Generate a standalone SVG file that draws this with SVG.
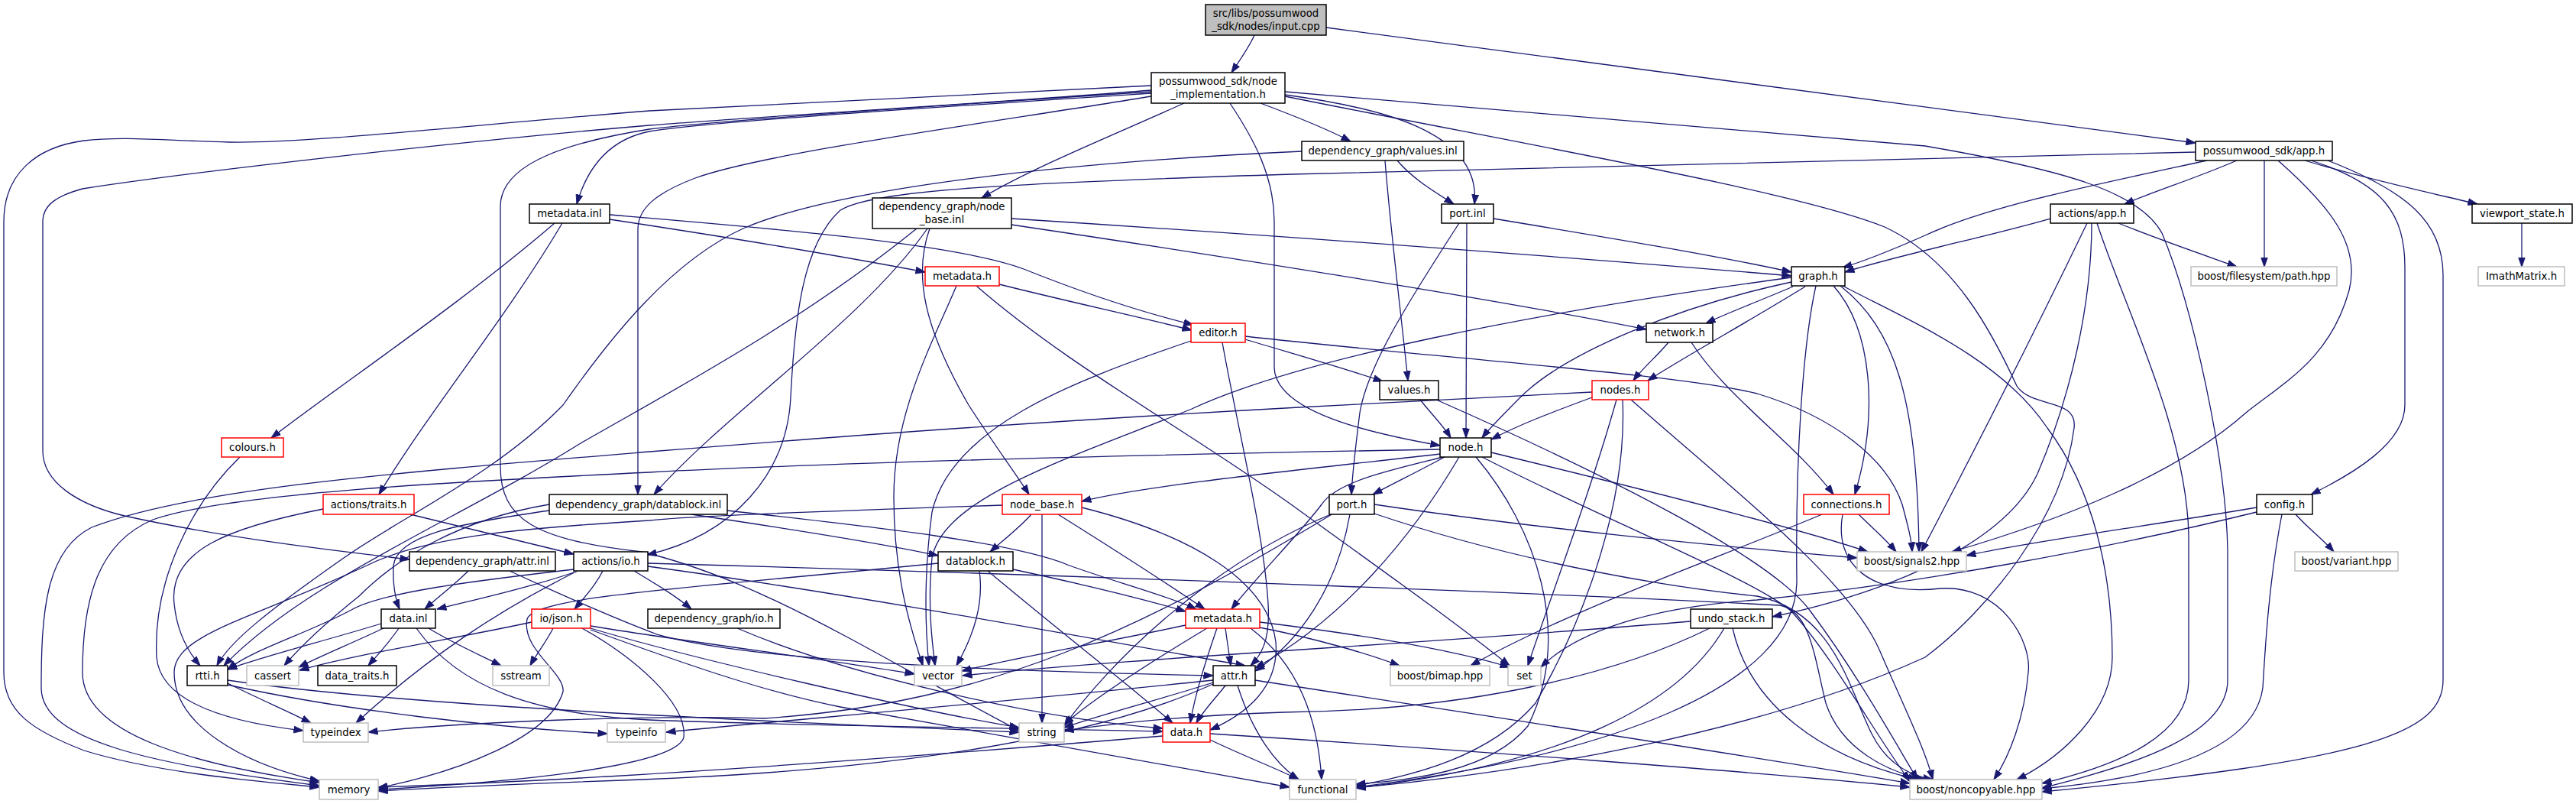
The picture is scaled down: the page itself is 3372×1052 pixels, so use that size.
<svg xmlns="http://www.w3.org/2000/svg" width="3372" height="1052" viewBox="0 0 3372 1052">
<style>
.bg{fill:#ffffff}
rect.b{fill:#ffffff;stroke:#000000;stroke-width:1.5}
rect.r{fill:#ffffff;stroke:#ff0000;stroke-width:1.5}
rect.g{fill:#ffffff;stroke:#bfbfbf;stroke-width:1.5}
rect.root{fill:#bfbfbf;stroke:#000000;stroke-width:1.5}
text{font-family:"DejaVu Sans","Liberation Sans",sans-serif;font-size:13.3px;fill:#000000;text-anchor:middle}
#edges path{fill:none;stroke:#191970;stroke-width:1.3;marker-end:url(#arr)}
</style>
<defs>
<marker id="arr" markerUnits="userSpaceOnUse" markerWidth="13" markerHeight="10" viewBox="0 0 13 10" refX="12.5" refY="5" orient="auto">
<path d="M0,0.5 L13,5 L0,9.5 z" fill="#191970" stroke="#191970" stroke-width="0.8"/>
</marker>
</defs>
<rect class="bg" x="0" y="0" width="3372" height="1052"/>
<g id="edges">
<path d="M1642 46 C1635 62 1622 80 1612 95"/>
<path d="M1736 36 L2874 187"/>
<path d="M1507 112 C1200 128 1000 138 850 145 C600 165 400 188 300 186 C220 184 160 178 110 184 C50 192 5 225 5 290 L5 880 C5 930 40 955 110 982 C200 1010 330 1022 418 1030"/>
<path d="M1507 118 C1300 135 1000 152 850 164 C600 185 250 225 108 247 C75 256 56 268 56 290 L56 590 C56 630 100 660 163 675 C300 705 450 722 536 732"/>
<path d="M1507 122 C1200 142 920 160 850 172 C800 182 770 215 755 267"/>
<path d="M1507 126 C1300 160 1000 200 910 233 C860 252 835 272 835 300 L835 647"/>
<path d="M1507 120 C1200 140 920 160 850 169 C750 185 655 212 655 270 L655 610 C655 680 700 706 840 722 C1000 760 1150 860 1334 956"/>
<path d="M1550 135 C1450 180 1350 220 1285 259"/>
<path d="M1610 135 C1640 180 1668 230 1668 290 L1668 480 C1668 540 1800 568 1885 583"/>
<path d="M1682 124 C1800 140 1940 170 1930 267"/>
<path d="M1650 135 C1690 150 1740 170 1768 185"/>
<path d="M1682 120 L2520 191 C2700 222 2800 250 2830 305 C2870 400 2914 600 2916 720 L2916 890 C2916 960 2800 1000 2673 1031"/>
<path d="M1682 126 C2000 190 2350 250 2467 297 C2560 340 2610 440 2640 505 C2660 535 2720 520 2715 560 C2700 680 2600 800 2520 860 C2300 960 2000 1010 1775 1031"/>
<path d="M1704 198 C1400 212 1100 245 975 298 C880 340 800 440 737 530 C650 620 520 680 450 730 C350 800 300 840 284 871"/>
<path d="M1813 210 C1820 300 1835 420 1843 498"/>
<path d="M1829 210 C1850 235 1880 252 1903 267"/>
<path d="M2874 199 L1690 228 C1300 240 1140 250 1100 275 C1050 320 1040 420 1035 520 C1030 620 960 700 847 726"/>
<path d="M2928 210 C2870 235 2820 250 2781 267"/>
<path d="M2964 210 L2964 349"/>
<path d="M3017 210 C3100 235 3180 252 3243 267"/>
<path d="M2889 210 C2750 240 2600 270 2520 308 C2470 330 2440 342 2412 350"/>
<path d="M2982 210 C3050 270 3090 320 3075 380 C3050 470 2990 500 2940 540 C2850 620 2700 680 2555 722"/>
<path d="M3025 210 C3120 240 3148 280 3148 350 L3148 530 C3148 580 3080 620 3025 647"/>
<path d="M3047 210 C3150 250 3198 290 3198 360 L3198 890 C3198 960 3100 995 2673 1036"/>
<path d="M3301 292 L3301 349"/>
<path d="M2684 286 C2600 310 2480 335 2415 356"/>
<path d="M2773 292 C2830 315 2880 332 2928 349"/>
<path d="M2732 292 C2680 400 2600 560 2515 722"/>
<path d="M2738 292 C2738 400 2710 520 2667 620 C2620 720 2450 780 2320 807"/>
<path d="M2745 292 C2780 400 2862 560 2865 700 L2865 890 C2865 960 2780 1000 2673 1025"/>
<path d="M798 287 C950 310 1100 335 1211 356"/>
<path d="M798 281 C1000 298 1250 318 1340 352 C1430 388 1500 410 1562 425"/>
<path d="M726 292 C600 400 450 500 355 573"/>
<path d="M736 292 C660 420 560 540 496 647"/>
<path d="M1324 286 C1700 310 2100 340 2345 361"/>
<path d="M1324 294 C1700 350 2000 400 2155 431"/>
<path d="M1200 299 C1050 420 900 500 760 580 C600 680 400 760 293 871"/>
<path d="M1214 299 C1130 420 950 540 856 647"/>
<path d="M1217 299 C1195 360 1210 430 1268 530 C1300 580 1330 620 1347 647"/>
<path d="M1955 286 C2100 310 2250 335 2345 356"/>
<path d="M1920 292 L1919 573"/>
<path d="M1910 292 C1840 400 1790 480 1780 540 C1775 580 1770 620 1769 647"/>
<path d="M1308 372 C1400 395 1480 412 1560 432"/>
<path d="M1252 374 C1220 450 1170 540 1170 650 C1170 760 1195 830 1208 871"/>
<path d="M1278 374 C1400 480 1550 560 1690 660 C1800 740 1900 810 1976 871"/>
<path d="M1559 446 C1400 500 1245 560 1220 670 C1208 760 1212 830 1216 871"/>
<path d="M1600 448 C1620 560 1655 700 1660 790 C1663 840 1650 858 1637 871"/>
<path d="M1630 444 C1700 465 1760 482 1810 499"/>
<path d="M1630 440 C1900 470 2200 490 2300 515 C2400 545 2470 600 2490 660 C2498 690 2502 705 2503 722"/>
<path d="M2347 375 C2300 395 2260 410 2233 423"/>
<path d="M2363 375 C2290 420 2200 470 2157 498"/>
<path d="M2345 369 C2200 400 2050 460 1990 520 C1965 545 1950 560 1940 573"/>
<path d="M2400 374 C2450 430 2460 540 2428 647"/>
<path d="M2409 374 C2480 430 2510 520 2512 722"/>
<path d="M2377 374 C2360 450 2350 600 2352 760 C2352 900 2100 990 1775 1030"/>
<path d="M2412 374 C2500 420 2620 470 2680 560 C2740 640 2765 750 2765 860 C2765 930 2700 990 2640 1020"/>
<path d="M2345 363 C2000 410 1700 470 1560 535 C1400 600 1235 650 1220 730 C1214 790 1220 840 1224 871"/>
<path d="M2184 448 C2170 465 2150 482 2138 498"/>
<path d="M2214 448 C2260 520 2350 580 2400 647"/>
<path d="M1859 523 C1872 540 1888 555 1899 573"/>
<path d="M1880 523 C2100 620 2320 730 2370 800 C2430 880 2480 970 2510 1020"/>
<path d="M2084 520 C2030 540 1990 555 1952 575"/>
<path d="M2084 513 C1900 522 1790 528 1700 533 C1300 555 1050 575 850 591 C500 620 250 640 120 690 C60 720 54 800 54 900 C54 970 200 1000 418 1028"/>
<path d="M1885 588 C1500 595 1100 605 850 618 C600 630 300 645 200 680 C130 710 108 780 108 880 C108 960 250 1000 418 1024"/>
<path d="M2116 523 C2080 650 2030 780 2000 871"/>
<path d="M2124 523 C2130 650 2080 800 2010 920 C1950 990 1850 1015 1775 1028"/>
<path d="M2135 523 C2280 650 2420 760 2460 850 C2490 920 2520 980 2530 1020"/>
<path d="M314 598 C250 660 200 760 205 860 C210 920 300 945 397 956"/>
<path d="M423 666 C300 690 220 720 228 790 C232 830 248 855 262 871"/>
<path d="M537 673 L751 725"/>
<path d="M719 668 C600 685 520 700 515 740 C514 765 518 785 523 797"/>
<path d="M719 660 C600 680 520 730 470 780 C420 820 390 850 372 871"/>
<path d="M905 673 C1020 690 1150 710 1228 727"/>
<path d="M952 668 C1150 690 1330 710 1400 740 C1470 765 1530 780 1566 797"/>
<path d="M1312 661 C1100 668 900 675 850 681 C700 690 560 700 480 740 C330 810 228 830 228 880 C228 950 320 1000 418 1022"/>
<path d="M613 747 C595 765 575 780 556 797"/>
<path d="M667 747 C760 790 820 815 860 830 C1000 870 1400 880 1588 884"/>
<path d="M751 745 C620 760 500 775 460 798 C400 830 330 850 298 876"/>
<path d="M751 749 C690 770 620 785 572 797"/>
<path d="M789 747 C780 765 765 782 752 797"/>
<path d="M830 747 C860 765 885 780 905 797"/>
<path d="M756 747 C650 800 560 860 466 946"/>
<path d="M848 741 C1100 775 1400 830 1630 871"/>
<path d="M848 737 C1500 755 2100 780 2330 792 C2370 800 2375 860 2390 920 C2410 980 2470 1010 2520 1020"/>
<path d="M499 816 C420 840 340 860 298 876"/>
<path d="M502 822 C460 842 420 858 391 873"/>
<path d="M522 822 C510 840 495 856 482 871"/>
<path d="M561 822 C590 840 630 858 656 871"/>
<path d="M545 822 C600 900 700 935 850 942 C1050 950 1300 952 1522 957"/>
<path d="M696 814 C600 835 470 855 392 877"/>
<path d="M724 822 C715 840 702 856 694 871"/>
<path d="M773 819 C900 840 1100 865 1197 882"/>
<path d="M773 822 C900 860 1200 930 1334 952"/>
<path d="M762 822 C830 860 900 920 895 965 C885 1000 700 1022 495 1033"/>
<path d="M773 824 C900 870 1000 905 1100 925 L1688 1030"/>
<path d="M298 894 C340 915 380 932 407 946"/>
<path d="M298 896 C450 930 650 952 795 960"/>
<path d="M298 890 C500 920 900 940 1334 958"/>
<path d="M965 822 C1100 880 1350 940 1522 953"/>
<path d="M1282 747 C1288 790 1275 830 1252 871"/>
<path d="M1293 747 C1380 820 1470 890 1535 946"/>
<path d="M1326 745 C1420 765 1500 785 1552 800"/>
<path d="M1228 737 C900 770 700 780 690 810 C682 850 740 880 737 905 C720 965 600 1010 495 1031"/>
<path d="M1350 673 C1335 690 1312 708 1296 722"/>
<path d="M1364 673 L1364 946"/>
<path d="M1385 673 C1460 720 1530 765 1577 797"/>
<path d="M1416 664 C1560 700 1660 760 1670 840 C1675 900 1630 935 1584 955"/>
<path d="M1885 594 C1700 615 1500 635 1416 656"/>
<path d="M1891 598 C1860 615 1825 632 1797 647"/>
<path d="M1889 598 C1820 615 1750 630 1730 660 C1700 700 1640 760 1612 797"/>
<path d="M1910 598 C1850 700 1760 810 1643 874"/>
<path d="M1932 598 C2010 690 2060 830 2000 950 C1950 1010 1850 1020 1775 1026"/>
<path d="M1940 598 C2100 680 2300 760 2345 800 C2400 860 2460 970 2500 1022"/>
<path d="M1952 592 C2150 640 2350 690 2445 722"/>
<path d="M1799 660 C2000 690 2250 715 2431 730"/>
<path d="M1799 672 C2000 740 2200 770 2300 780 C2400 800 2420 900 2450 960 C2470 1000 2500 1015 2530 1020"/>
<path d="M1767 673 C1750 770 1700 840 1643 878"/>
<path d="M1742 673 C1580 740 1450 870 1393 950"/>
<path d="M1745 672 C1500 820 1300 920 1000 940 C850 935 600 945 482 958"/>
<path d="M1552 818 C1450 840 1330 860 1259 878"/>
<path d="M1580 822 C1500 870 1430 915 1393 948"/>
<path d="M1604 822 L1611 871"/>
<path d="M1593 822 C1580 860 1565 905 1558 946"/>
<path d="M1637 822 C1700 870 1725 940 1730 1020"/>
<path d="M1649 814 C1780 830 1900 850 1976 873"/>
<path d="M1649 821 C1720 835 1790 855 1832 871"/>
<path d="M1588 893 C1520 915 1440 935 1393 952"/>
<path d="M1604 897 C1590 915 1575 930 1566 946"/>
<path d="M1588 895 C1400 980 1100 1010 840 1020 C700 1025 580 1030 495 1035"/>
<path d="M1588 890 C1300 920 1000 945 872 958"/>
<path d="M1620 897 C1640 960 1670 1000 1700 1020"/>
<path d="M1643 890 C1900 930 2300 990 2500 1025"/>
<path d="M1522 963 C1200 990 800 1020 495 1030"/>
<path d="M1584 968 C1630 990 1670 1005 1700 1020"/>
<path d="M1584 960 C1900 980 2300 1010 2500 1030"/>
<path d="M2385 673 C2250 730 2050 800 1925 871"/>
<path d="M2433 673 C2450 690 2468 705 2482 722"/>
<path d="M2412 673 C2400 740 2450 780 2540 770 C2620 765 2660 840 2655 880 C2650 940 2630 990 2610 1020"/>
<path d="M2213 813 C1900 840 1500 860 1260 884"/>
<path d="M2238 822 C2100 890 1900 930 1680 932 C1550 936 1450 948 1393 956"/>
<path d="M2257 822 C2200 920 2050 1000 1775 1031"/>
<path d="M2268 822 C2290 920 2380 990 2510 1020"/>
<path d="M2954 664 C2800 690 2650 710 2574 727"/>
<path d="M2954 670 C2750 720 2500 765 2300 785 C2150 795 2060 830 2017 873"/>
<path d="M3005 673 C3020 690 3040 705 3055 722"/>
<path d="M2987 673 C2970 760 2965 850 2962 900 C2950 990 2800 1020 2673 1032"/>
</g>
<g id="n_input"><rect class="root" x="1578" y="6" width="158" height="40"/><text x="1657" y="22">src/libs/possumwood</text><text x="1657" y="39">_sdk/nodes/input.cpp</text></g>
<g id="n_impl"><rect class="b" x="1507" y="95" width="175" height="40"/><text x="1594.5" y="111">possumwood_sdk/node</text><text x="1594.5" y="128">_implementation.h</text></g>
<g id="n_values_inl"><rect class="b" x="1704" y="185" width="212" height="25"/><text x="1810" y="202">dependency_graph/values.inl</text></g>
<g id="n_app"><rect class="b" x="2874" y="185" width="179" height="25"/><text x="2963.5" y="202">possumwood_sdk/app.h</text></g>
<g id="n_metadata_inl"><rect class="b" x="693" y="267" width="105" height="25"/><text x="745.5" y="284">metadata.inl</text></g>
<g id="n_node_base_inl"><rect class="b" x="1142" y="259" width="182" height="40"/><text x="1233" y="275">dependency_graph/node</text><text x="1233" y="292">_base.inl</text></g>
<g id="n_port_inl"><rect class="b" x="1887" y="267" width="68" height="25"/><text x="1921" y="284">port.inl</text></g>
<g id="n_actions_app"><rect class="b" x="2684" y="267" width="109" height="25"/><text x="2738.5" y="284">actions/app.h</text></g>
<g id="n_viewport"><rect class="b" x="3236" y="267" width="131" height="25"/><text x="3301.5" y="284">viewport_state.h</text></g>
<g id="n_metadata_h_u"><rect class="r" x="1211" y="349" width="97" height="25"/><text x="1259.5" y="366">metadata.h</text></g>
<g id="n_graph"><rect class="b" x="2345" y="349" width="70" height="25"/><text x="2380" y="366">graph.h</text></g>
<g id="n_path"><rect class="g" x="2868" y="349" width="191" height="25"/><text x="2963.5" y="366">boost/filesystem/path.hpp</text></g>
<g id="n_imath"><rect class="g" x="3244" y="349" width="113" height="25"/><text x="3300.5" y="366">ImathMatrix.h</text></g>
<g id="n_editor"><rect class="r" x="1559" y="423" width="71" height="25"/><text x="1594.5" y="440">editor.h</text></g>
<g id="n_network"><rect class="b" x="2155" y="423" width="87" height="25"/><text x="2198.5" y="440">network.h</text></g>
<g id="n_values_h"><rect class="b" x="1806" y="498" width="77" height="25"/><text x="1844.5" y="515">values.h</text></g>
<g id="n_nodes"><rect class="r" x="2084" y="498" width="74" height="25"/><text x="2121" y="515">nodes.h</text></g>
<g id="n_colours"><rect class="r" x="290" y="573" width="81" height="25"/><text x="330.5" y="590">colours.h</text></g>
<g id="n_node"><rect class="b" x="1885" y="573" width="67" height="25"/><text x="1918.5" y="590">node.h</text></g>
<g id="n_traits"><rect class="r" x="423" y="647" width="119" height="26"/><text x="482.5" y="665">actions/traits.h</text></g>
<g id="n_datablock_inl"><rect class="b" x="719" y="647" width="233" height="26"/><text x="835.5" y="665">dependency_graph/datablock.inl</text></g>
<g id="n_node_base_h"><rect class="r" x="1312" y="647" width="104" height="26"/><text x="1364" y="665">node_base.h</text></g>
<g id="n_port_h"><rect class="b" x="1740" y="647" width="59" height="26"/><text x="1769.5" y="665">port.h</text></g>
<g id="n_connections"><rect class="r" x="2361" y="647" width="112" height="26"/><text x="2417" y="665">connections.h</text></g>
<g id="n_config"><rect class="b" x="2954" y="647" width="73" height="26"/><text x="2990.5" y="665">config.h</text></g>
<g id="n_attr_inl"><rect class="b" x="536" y="722" width="191" height="25"/><text x="631.5" y="739">dependency_graph/attr.inl</text></g>
<g id="n_actions_io"><rect class="b" x="751" y="722" width="97" height="25"/><text x="799.5" y="739">actions/io.h</text></g>
<g id="n_datablock_h"><rect class="b" x="1228" y="722" width="98" height="25"/><text x="1277" y="739">datablock.h</text></g>
<g id="n_signals2"><rect class="g" x="2431" y="722" width="143" height="25"/><text x="2502.5" y="739">boost/signals2.hpp</text></g>
<g id="n_variant"><rect class="g" x="3004" y="722" width="135" height="25"/><text x="3071.5" y="739">boost/variant.hpp</text></g>
<g id="n_data_inl"><rect class="b" x="499" y="797" width="71" height="25"/><text x="534.5" y="814">data.inl</text></g>
<g id="n_json"><rect class="r" x="696" y="797" width="77" height="25"/><text x="734.5" y="814">io/json.h</text></g>
<g id="n_dg_io"><rect class="b" x="848" y="797" width="173" height="25"/><text x="934.5" y="814">dependency_graph/io.h</text></g>
<g id="n_metadata_h_l"><rect class="r" x="1552" y="797" width="97" height="25"/><text x="1600.5" y="814">metadata.h</text></g>
<g id="n_undo"><rect class="b" x="2213" y="797" width="107" height="25"/><text x="2266.5" y="814">undo_stack.h</text></g>
<g id="n_rtti"><rect class="b" x="245" y="871" width="53" height="26"/><text x="271.5" y="889">rtti.h</text></g>
<g id="n_cassert"><rect class="g" x="323" y="871" width="68" height="26"/><text x="357" y="889">cassert</text></g>
<g id="n_data_traits"><rect class="b" x="416" y="871" width="103" height="26"/><text x="467.5" y="889">data_traits.h</text></g>
<g id="n_sstream"><rect class="g" x="645" y="871" width="74" height="26"/><text x="682" y="889">sstream</text></g>
<g id="n_vector"><rect class="g" x="1197" y="871" width="62" height="26"/><text x="1228" y="889">vector</text></g>
<g id="n_bimap"><rect class="g" x="1820" y="871" width="130" height="26"/><text x="1885" y="889">boost/bimap.hpp</text></g>
<g id="n_set"><rect class="g" x="1974" y="871" width="43" height="26"/><text x="1995.5" y="889">set</text></g>
<g id="n_attr_h"><rect class="b" x="1588" y="871" width="55" height="26"/><text x="1615.5" y="889">attr.h</text></g>
<g id="n_typeindex"><rect class="g" x="397" y="946" width="85" height="25"/><text x="439.5" y="963">typeindex</text></g>
<g id="n_typeinfo"><rect class="g" x="795" y="946" width="76" height="25"/><text x="833" y="963">typeinfo</text></g>
<g id="n_string"><rect class="g" x="1334" y="946" width="59" height="25"/><text x="1363.5" y="963">string</text></g>
<g id="n_data_h"><rect class="r" x="1522" y="946" width="62" height="25"/><text x="1553" y="963">data.h</text></g>
<g id="n_memory"><rect class="g" x="418" y="1020" width="77" height="26"/><text x="456.5" y="1038">memory</text></g>
<g id="n_functional"><rect class="g" x="1688" y="1020" width="87" height="26"/><text x="1731.5" y="1038">functional</text></g>
<g id="n_noncopyable"><rect class="g" x="2500" y="1020" width="173" height="26"/><text x="2586.5" y="1038">boost/noncopyable.hpp</text></g>
</svg>
